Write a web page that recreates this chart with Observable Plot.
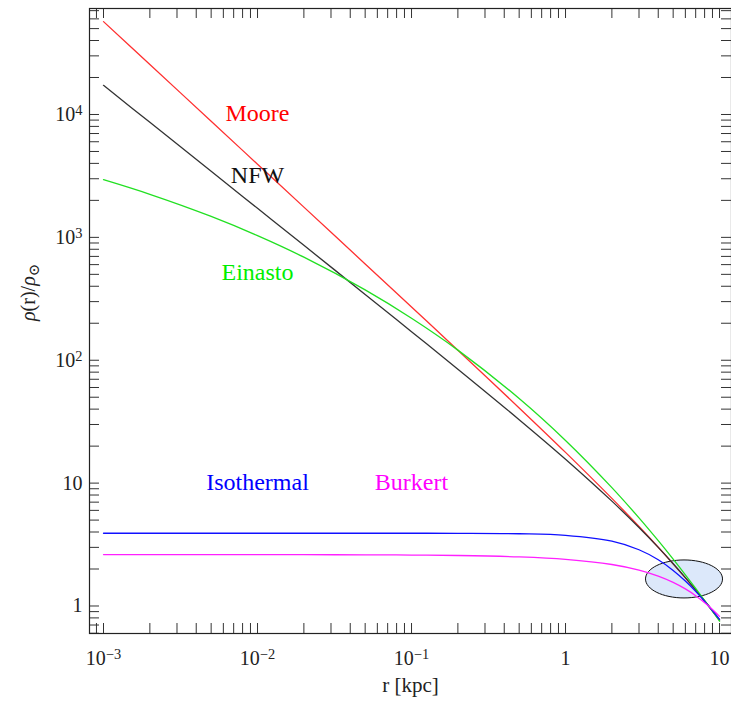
<!DOCTYPE html>
<html><head><meta charset="utf-8">
<script src="https://cdn.jsdelivr.net/npm/d3@7"></script>
<script src="https://cdn.jsdelivr.net/npm/@observablehq/plot@0.6"></script>
<style>html,body{margin:0;padding:0;background:#fff;overflow:hidden;}</style>
</head><body><div id="chart"></div>
<script>
// radii in kpc
const radius = [0.001, 0.002, 0.005, 0.01, 0.02, 0.05, 0.1, 0.2, 0.5, 1, 2, 3, 4, 5, 6, 7, 8.5, 10];
// rho(r)/rho_sun
const moore = [57000, 25510, 8808, 3940, 1763, 607.8, 271.2, 120.6, 40.92, 17.78, 7.508, 4.435, 3.009, 2.202, 1.693, 1.347, 1.0, 0.7723];
const nfw = [17258, 8628, 3450, 1724, 861.3, 343.5, 170.9, 84.6, 32.86, 15.66, 7.132, 4.350, 2.997, 2.209, 1.702, 1.353, 1.0, 0.767];
const einasto = [2944, 2239, 1480, 1033, 689.8, 373.6, 219.7, 120.9, 48.81, 22.25, 9.192, 5.212, 3.399, 2.405, 1.795, 1.391, 1.0, 0.752];
const isothermal = [3.91, 3.91, 3.91, 3.91, 3.91, 3.909, 3.908, 3.904, 3.871, 3.759, 3.368, 2.870, 2.378, 1.948, 1.596, 1.315, 1.0, 0.7777];
const burkert = [2.6197, 2.6186, 2.6164, 2.6175, 2.6153, 2.6087, 2.5974, 2.5752, 2.5084, 2.3972, 2.1763, 1.9602, 1.7528, 1.5575, 1.3772, 1.2135, 1.0, 0.8226];

const seriesNames = ["Moore", "NFW", "Einasto", "Isothermal", "Burkert"];
const seriesColors = ["#ff3030", "#333333", "#22e022", "#1010ff", "#ff20ff"];
const labelColors = ["#ff0000", "#111111", "#00ee00", "#0000ff", "#ff00ff"];
const labelR = [0.01, 0.01, 0.01, 0.01, 0.1];
const labelRho = [10170, 3184, 517, 10.1, 10.1];

const xMajor = [1e-3, 1e-2, 1e-1, 1, 10];
const xTickLabels = ["10^-3", "10^-2", "10^-1", "1", "10"];
const yMajor = [1, 10, 100, 1000, 10000];
const yTickLabels = ["1", "10", "10^2", "10^3", "10^4"];

const ellipseR = [5.88];
const ellipseRho = [1.66];

const xDomain = [0.000811, 11.96];
const yDomain = [0.5972, 72870];

const allSeries = [moore, nfw, einasto, isothermal, burkert];
const rows = [];
allSeries.forEach((vals, s) => vals.forEach((v, i) => rows.push({name: seriesNames[s], r: radius[i], rho: v})));
const labels = seriesNames.map((n, i) => ({name: n, r: labelR[i], rho: labelRho[i], color: labelColors[i]}));
const ellipse = ellipseR.map((r, i) => ({r, rho: ellipseRho[i]}));

function minorTicks(domain) {
  const out = [];
  for (let k = -5; k <= 6; k++) for (let m = 1; m <= 9; m++) {
    const v = m * Math.pow(10, k);
    if (v >= domain[0] && v <= domain[1]) out.push(v);
  }
  return out;
}
const xTicks = minorTicks(xDomain);
const yTicks = minorTicks(yDomain);

const ellipseSymbol = {
  draw(ctx) {
    const a = 38.5, b = 19, k = 0.5523;
    ctx.moveTo(a, 0);
    ctx.bezierCurveTo(a, k * b, k * a, b, 0, b);
    ctx.bezierCurveTo(-k * a, b, -a, k * b, -a, 0);
    ctx.bezierCurveTo(-a, -k * b, -k * a, -b, 0, -b);
    ctx.bezierCurveTo(k * a, -b, a, -k * b, a, 0);
    ctx.closePath();
  }
};

const W = 731, H = 709, mL = 89, mR = 0, mT = 8, mB = 76;
const fw = W - mL - mR, fh = H - mT - mB, tl = 10;
const fmt = (majors, labs) => d => {
  const i = majors.findIndex(v => Math.abs(Math.log10(v / d)) < 1e-6);
  return i >= 0 ? labs[i] : "";
};
const serif = "'Liberation Serif', 'DejaVu Serif', serif";

const chart = Plot.plot({
  width: W, height: H,
  marginLeft: mL, marginRight: mR, marginTop: mT, marginBottom: mB,
  x: {type: "log", domain: xDomain},
  y: {type: "log", domain: yDomain},
  color: {domain: seriesNames, range: seriesColors},
  style: {fontFamily: serif, background: "white", color: "#222"},
  marks: [
    Plot.dot(ellipse, {x: "r", y: "rho", symbol: ellipseSymbol, fill: "#dce8fa", stroke: "#111", strokeWidth: 1}),
    Plot.line(rows, {x: "r", y: "rho", z: "name", stroke: "name", strokeWidth: 1.3, curve: "catmull-rom"}),
    Plot.tickX(xTicks, {x: d => d, insetTop: fh - tl, stroke: "#333", strokeWidth: 1}),
    Plot.tickX(xTicks, {x: d => d, insetBottom: fh - tl, stroke: "#333", strokeWidth: 1}),
    Plot.tickY(yTicks, {y: d => d, insetRight: fw - tl, stroke: "#333", strokeWidth: 1}),
    Plot.tickY(yTicks, {y: d => d, insetLeft: fw - tl, stroke: "#333", strokeWidth: 1}),
    Plot.frame({stroke: "#222", strokeWidth: 1.2}),
    Plot.axisX({anchor: "bottom", ticks: xMajor, tickSize: 0, tickPadding: 17, tickFormat: fmt(xMajor, xTickLabels), fontSize: 20, label: null}),
    Plot.axisY({anchor: "left", ticks: yMajor, tickSize: 0, tickPadding: 7, tickFormat: fmt(yMajor, yTickLabels), fontSize: 20, label: null}),
    Plot.text(labels, {x: "r", y: "rho", text: "name", fill: d => d.color, fontSize: 24}),
    Plot.text(["r [kpc]"], {text: d => d, frameAnchor: "bottom", dy: 58, fontSize: 21}),
    Plot.text(["rho-label"], {text: d => d, frameAnchor: "left", dx: -61, dy: 0, rotate: -90, fontSize: 20})
  ]
});

// superscript exponents in tick labels, subscript in axis label
d3.select(chart).selectAll("text").each(function() {
  const t = this.textContent;
  if (t.includes("^")) {
    const [b, e] = t.split("^");
    this.textContent = b;
    d3.select(this).append("tspan").attr("dy", "-0.42em").attr("font-size", "0.72em").text(e.replace("-", "\u2212"));
  } else if (t === "rho-label") {
    this.textContent = "";
    const s = d3.select(this);
    s.append("tspan").attr("font-style", "italic").text("\u03C1");
    s.append("tspan").text("(r)/");
    s.append("tspan").attr("font-style", "italic").text("\u03C1");
    s.append("tspan").attr("dy", "0.3em").attr("font-size", "0.75em").text("\u2299");
  }
});
document.getElementById("chart").appendChild(chart);
</script>
</body></html>
